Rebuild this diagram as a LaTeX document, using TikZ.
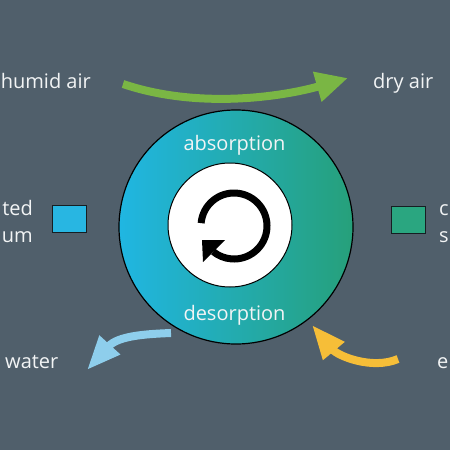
\documentclass[tikz,border=0pt]{standalone}
\usepackage{fontspec}
\setmainfont{Open Sans}
\usetikzlibrary{arrows.meta}
\definecolor{bgc}{RGB}{80,95,107}
\definecolor{txtc}{RGB}{242,244,245}
\definecolor{grnc}{RGB}{122,182,68}
\definecolor{lbluec}{RGB}{142,206,236}
\definecolor{ylwc}{RGB}{246,190,56}
\definecolor{wheelL}{RGB}{32,182,226}
\definecolor{wheelR}{RGB}{38,160,122}
\definecolor{sqbluec}{RGB}{40,182,226}
\definecolor{sqgreenc}{RGB}{42,166,128}
\definecolor{edgec}{RGB}{22,30,34}
\begin{document}
\begin{tikzpicture}[x=1pt,y=-1pt,
  lbl/.style={text=txtc,font=\fontsize{20}{24}\selectfont,inner sep=0pt},
  flow/.style={line width=8pt},
  sqbox/.style={draw=edgec,line width=1.5pt,minimum width=34pt,minimum height=27pt,inner sep=0pt}]
\fill[bgc] (0,0) rectangle (450,450);
\useasboundingbox (0,0) rectangle (450,450);
% wheel
\node[circle,minimum size=234pt,inner sep=0pt,left color=wheelL,right color=wheelR,draw=black,line width=1.2pt] (wheel) at (236,227) {};
\node[circle,minimum size=124pt,inner sep=0pt,fill=white,draw=black,line width=1pt] (core) at (230,225) {};
\node[lbl,anchor=base] (abs) at (234.5,150) {absorption};
\node[lbl,anchor=base] (des) at (234.5,320) {desorption};
% rotation icon
\coordinate (rc) at (234,226);
\draw[line width=7pt] (rc) ++(-175:33) arc[start angle=-175,end angle=129,radius=33];
\fill (202,240) -- (225,240) -- (203,262) -- cycle;
% texts
\node[lbl,anchor=base east] (hum) at (91,88) {humid air};
\node[lbl,anchor=base west] (dry) at (373,88) {dry air};
\node[lbl,anchor=base east] (satA) at (33,215) {ted};
\node[lbl,anchor=base east] (satB) at (33,242) {um};
\node[lbl,anchor=base west] (conA) at (439,215) {c};
\node[lbl,anchor=base west] (conB) at (439,242) {s};
\node[lbl,anchor=base west] (wat) at (5,368) {water};
\node[lbl,anchor=base west] (en) at (437,368) {e};
% squares
\node[sqbox,fill=sqbluec] (sqL) at (69.5,219) {};
\node[sqbox,fill=sqgreenc] (sqR) at (408.5,220) {};
% arrows
\coordinate (gA) at (123,84);
\coordinate (gB) at (348,78);
\draw[flow,grnc,-{Triangle[length=32pt,width=29pt]}] (gA) .. controls (200,110) and (285,96) .. (gB);
\coordinate (bA) at (171,333);
\coordinate (bB) at (87,370);
\draw[flow,lbluec,-{Triangle[length=34pt,width=26pt]}] (bA) .. controls (145,334) and (118,336) .. (bB);
\coordinate (yA) at (398,359);
\coordinate (yB) at (312,325);
\draw[flow,ylwc,-{Triangle[length=34pt,width=26pt]}] (yA) .. controls (372,370) and (338,356) .. (yB);
\end{tikzpicture}
\end{document}
